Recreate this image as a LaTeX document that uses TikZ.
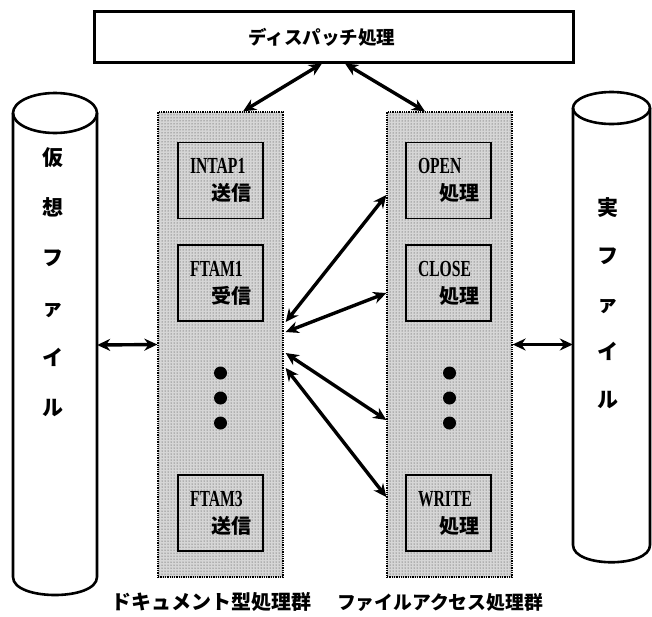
\documentclass[tikz,border=0pt]{standalone}
\usepackage{fontspec}
\setmainfont{Liberation Serif}
\newfontfamily\jp{Noto Sans CJK JP}
\newfontfamily\narrowser[FakeStretch=0.68]{Liberation Serif}
\usetikzlibrary{arrows.meta,patterns,calc}
\begin{document}
\begin{tikzpicture}[x=1pt,y=-1pt,
  cyl/.style={line width=2.6pt},
  colbox/.style={draw, densely dotted, line width=1.3pt, preaction={fill=black!16}, pattern=dots, pattern color=black!80, minimum width=125pt, minimum height=465pt, inner sep=0pt},
  procbox/.style={draw, line width=1.4pt, minimum width=85pt, minimum height=76pt, inner sep=0pt, text width=61pt, align=left, font=\fontsize{23}{27}\selectfont},
  dbl/.style={line width=3.4pt, {Stealth[length=13pt,width=12pt]}-{Stealth[length=13pt,width=12pt]}},
  body/.style={minimum width=#1, minimum height=440pt, inner sep=0pt}
]
\useasboundingbox (0,0) rectangle (652,616);

% columns
\node[colbox] (col1) at (220.5,344.5) {};
\node[colbox] (col2) at (449.5,344.5) {};

% top box
\node[draw, line width=3pt, fill=white, minimum width=479pt, minimum height=51pt, inner sep=0pt] (disp) at (333.5,36.5) {};
\node[font=\jp\bfseries\fontsize{18.5}{22}\selectfont] (disptext) at (322,37) {ディスパッチ処理};

% left cylinder
\draw[cyl] (13,113) -- (13,577) .. controls (13,601) and (97,601) .. (97,577) -- (97,113);
\draw[cyl] (55,113) ellipse [x radius=42pt, y radius=20pt];
\node[body=84pt] (vfile) at (55,345) {};
\node[font=\jp\bfseries\fontsize{21}{50}\selectfont, align=center] (vtext) at (53,282) {仮\\想\\フ\\ァ\\イ\\ル};

% right cylinder
\draw[cyl] (573,108) -- (573,545) .. controls (573,568) and (650,568) .. (650,545) -- (650,108);
\draw[cyl] (611.5,108) ellipse [x radius=38.5pt, y radius=16pt];
\node[body=77pt] (rfile) at (611.5,326.5) {};
\node[font=\jp\bfseries\fontsize{21}{48}\selectfont, align=center] (rtext) at (608,303) {実\\フ\\ァ\\イ\\ル};

% process boxes
\node[procbox] (intap) at (220.5,180.5) {{\narrowser\bfseries INTAP1}\\\makebox[61pt][r]{\jp\bfseries\fontsize{20}{27}\selectfont 送信}};
\node[procbox] (ftam1) at (220.5,283) {{\narrowser\bfseries FTAM1}\\\makebox[61pt][r]{\jp\bfseries\fontsize{20}{27}\selectfont 受信}};
\node[procbox] (ftam3) at (220.5,513) {{\narrowser\bfseries FTAM3}\\\makebox[61pt][r]{\jp\bfseries\fontsize{20}{27}\selectfont 送信}};
\node[procbox] (open) at (448.5,180.5) {{\narrowser\bfseries OPEN}\\\makebox[61pt][r]{\jp\bfseries\fontsize{20}{27}\selectfont 処理}};
\node[procbox] (close) at (448.5,283) {{\narrowser\bfseries CLOSE}\\\makebox[61pt][r]{\jp\bfseries\fontsize{20}{27}\selectfont 処理}};
\node[procbox] (write) at (448.5,513) {{\narrowser\bfseries WRITE}\\\makebox[61pt][r]{\jp\bfseries\fontsize{20}{27}\selectfont 処理}};

% dots
\foreach \yy in {373,398,423} {
  \fill (220.5,\yy) circle[radius=6.5pt];
  \fill (449.5,\yy) circle[radius=6.5pt];
}

% arrows
\draw[dbl] ($(disp.south)+(-11.5,0)$) -- ($(col1.north)+(22.5,0)$);
\draw[dbl] ($(disp.south)+(11.5,0)$) -- ($(col2.north)+(-24.5,0)$);
\draw[dbl] (vfile.east) -- (col1.west);
\draw[dbl] (col2.east) -- (col2.east -| rfile.west);
\draw[dbl] ($(col1.east)+(2,-22.5)$) -- ($(col2.west)+(0,-149.5)$);
\draw[dbl] ($(col1.east)+(2,-12.5)$) -- ($(col2.west)+(0,-51.5)$);
\draw[dbl] ($(col1.east)+(2,8.5)$) -- ($(col2.west)+(0,75.5)$);
\draw[dbl] ($(col1.east)+(2,23.5)$) -- ($(col2.west)+(0,152.5)$);

% labels
\node[font=\jp\bfseries\fontsize{20}{24}\selectfont] (lab1) at (211,602) {ドキュメント型処理群};
\node[font=\jp\bfseries\fontsize{18.8}{24}\selectfont] (lab2) at (440,602) {ファイルアクセス処理群};
\end{tikzpicture}
\end{document}
